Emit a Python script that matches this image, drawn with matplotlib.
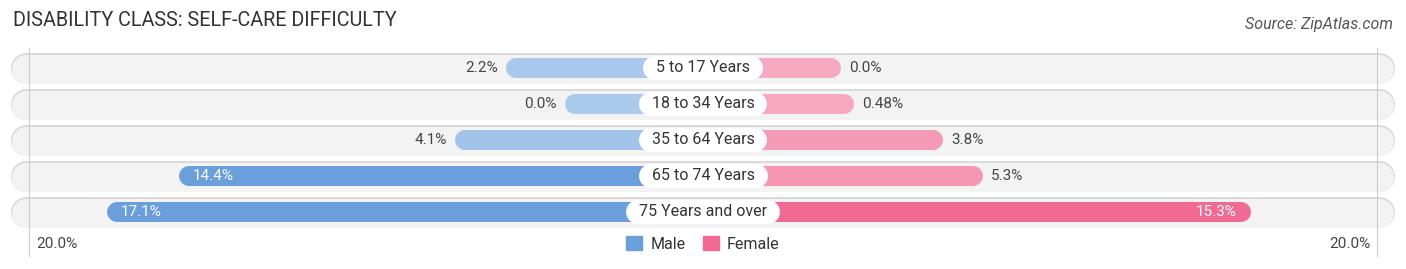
import matplotlib.pyplot as plt
from matplotlib.patches import Patch

plt.rcParams['font.family'] = ['Roboto', 'DejaVu Sans']

# Data
groups = ["5 to 17 Years", "18 to 34 Years", "35 to 64 Years", "65 to 74 Years", "75 Years and over"]
male = [2.2, 0.0, 4.1, 14.4, 17.1]
female = [0.0, 0.48, 3.8, 5.3, 15.3]
male_labels = ["2.2%", "0.0%", "4.1%", "14.4%", "17.1%"]
female_labels = ["0.0%", "0.48%", "3.8%", "5.3%", "15.3%"]
male_colors = ["#a9c8ec", "#abc9ec", "#a2c3ea", "#6a9fdc", "#6a9fdc"]
female_colors = ["#f7a9c2", "#f7a8c1", "#f59ab6", "#f597b4", "#f06a94"]
axis_max = 20.0

W, H = 1406, 269
fig = plt.figure(figsize=(W / 100, H / 100), dpi=100)
ax = fig.add_axes([0, 0, 1, 1])
px = 33.7  # pixels per axis unit
cx = 703
ax.set_xlim(-cx / px, (W - cx) / px)
ax.set_ylim(H, 0)
ax.axis('off')

# bars start with a fixed offset, then scale so that axis_max lands on the grid line
off = 4.1
k = (axis_max - off) / axis_max


def end(v):
    return off + v * k


pt = 72 / 100  # points per pixel
rows = [68 + 36 * i for i in range(len(groups))]
track_l, track_r = -20.52, 20.5
r_track = 15 / px
r_bar = 10 / px

fig.canvas.draw()
renderer = fig.canvas.get_renderer()

for i, y in enumerate(rows):
    # background track
    ax.plot([track_l + r_track, track_r - r_track], [y, y], lw=31 * pt, color="#dadada",
            solid_capstyle='round', zorder=1)
    ax.plot([track_l + r_track, track_r - r_track], [y + 0.6, y + 0.6], lw=29 * pt, color="#f3f3f3",
            solid_capstyle='round', zorder=1.1)

    m = end(male[i])
    f = end(female[i])
    ax.plot([-m + r_bar, -r_bar], [y, y], lw=20 * pt, color=male_colors[i],
            solid_capstyle='round', zorder=3)
    ax.plot([r_bar, f - r_bar], [y, y], lw=20 * pt, color=female_colors[i],
            solid_capstyle='round', zorder=3)

    # value labels
    if male[i] > 10:
        ax.text(-m + 14 / px, y, male_labels[i], ha='left', va='center', fontsize=11,
                color='white', zorder=5)
    else:
        ax.text(-m - 8 / px, y, male_labels[i], ha='right', va='center', fontsize=11,
                color='#444444', zorder=5)
    if female[i] > 10:
        ax.text(f - 14 / px, y, female_labels[i], ha='right', va='center', fontsize=11,
                color='white', zorder=5)
    else:
        ax.text(f + 8 / px, y, female_labels[i], ha='left', va='center', fontsize=11,
                color='#444444', zorder=5)

    # category label on a white pill
    t = ax.text(0, y, groups[i], ha='center', va='center', fontsize=11.5, color='#333333', zorder=7)
    w = t.get_window_extent(renderer).width
    half = (w / 2 + 13 - 12) / px
    ax.plot([-half, half], [y, y], lw=24 * pt, color='white', solid_capstyle='round', zorder=6)

# grid lines at +/- axis_max
for xv in (-axis_max, axis_max):
    ax.plot([xv, xv], [48, 256], lw=0.8, color='#cccccc', zorder=2)

ax.text(-axis_max + 7 / px, 244, "20.0%", ha='left', va='center', fontsize=11, color='#444444')
ax.text(axis_max - 7 / px, 244, "20.0%", ha='right', va='center', fontsize=11, color='#444444')

ax.text(13 / px - cx / px, 21, "DISABILITY CLASS: SELF-CARE DIFFICULTY", ha='left', va='center',
        fontsize=14.2, color='#333333')
ax.text((1393 - cx) / px, 25, "Source: ZipAtlas.com", ha='right', va='center', fontsize=11.5,
        color='#555555', style='italic')

handles = [Patch(color="#6a9fdc", label="Male"), Patch(color="#f06a94", label="Female")]
fig.legend(handles=handles, loc='center', bbox_to_anchor=(0.5, 1 - 244 / H), ncol=2,
           frameon=False, fontsize=11.5, handlelength=1.0, handleheight=1.0,
           handletextpad=0.5, columnspacing=1.1, labelcolor='#333333')

fig.savefig("out.png", dpi=100)
